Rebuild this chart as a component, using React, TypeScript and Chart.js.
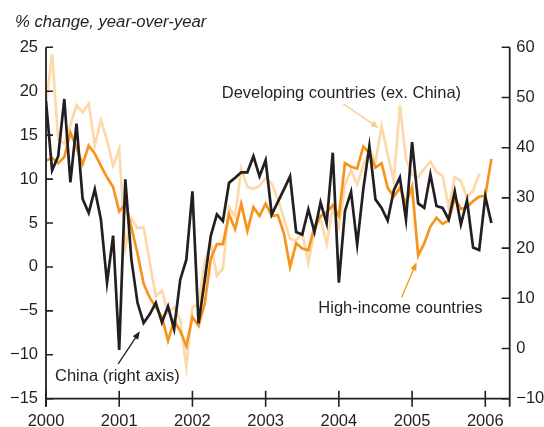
import { useEffect, useRef } from 'react';
import { Chart, registerables } from 'chart.js';

Chart.register(...registerables);

// Monthly data, starting January 2000
const startYear = 2000;
const developing = [
  18.5, 24.2, 14.5, 14.0, 16.2, 18.4, 17.6, 18.6, 13.8, 16.7, 14.4, 11.5,
  13.4, 2.2, 5.5, 4.4, 4.5, 0.5, -3.3, -2.7, -5.2, -4.6, -6.0, -11.4,
  -4.6, -4.2, 0.5, 2.7, -1.0, -0.2, 6.8, 5.7, 11.2, 9.1, 8.9, 9.2,
  10.1, 9.5, 7.7, 5.5, 3.2, 3.0, 3.9, 0.5, 4.1, 5.5, 2.6, 6.8,
  4.5, 9.4, 11.0, 9.4, 11.5, 13.3, 12.0, 16.0, 12.8, 9.8, 18.4, 12.3,
  10.5, 10.2, 11.2, 12.0, 10.8, 10.4, 6.8, 10.2, 9.8, 7.9, 8.7, 10.6,
];
const highIncome = [
  12.1, 12.4, 11.8, 12.5, 15.3, 13.6, 11.7, 13.8, 12.9, 11.5, 10.2, 9.1,
  6.3, 7.2, 4.5, 1.5, -1.9, -3.5, -4.6, -5.7, -8.4, -6.1, -7.3, -9.0,
  -5.7, -6.7, -4.2, 0.9, 2.6, 2.6, 6.0, 4.3, 7.2, 4.1, 6.8, 5.8,
  7.2, 5.8, 5.9, 3.8, 0.0, 2.7, 2.1, 1.9, 4.6, 5.8, 6.2, 7.0,
  5.8, 11.8, 11.4, 11.2, 13.7, 13.0, 11.3, 11.8, 9.0, 8.0, 9.0, 7.2,
  9.1, 1.3, 2.7, 4.6, 5.6, 4.9, 5.3, 7.8, 6.6, 6.8, 7.5, 8.0,
  8.1, 12.3,
];
const china = [
  49.3, 35.5, 38.3, 49.7, 33.1, 44.8, 29.8, 27.0, 31.7, 25.7, 13.1, 22.5,
  -0.3, 33.7, 17.7, 9.1, 5.1, 6.8, 9.1, 5.2, 8.4, 3.9, 13.7, 17.7,
  31.3, 5.0, 13.5, 22.4, 26.7, 25.4, 33.0, 34.0, 35.1, 35.1, 38.3, 34.3,
  37.5, 26.7, 29.2, 31.7, 34.3, 23.2, 22.7, 27.7, 23.2, 29.1, 24.9, 39.0,
  13.1, 27.4, 31.2, 20.7, 31.7, 40.3, 29.7, 28.0, 25.5, 31.5, 34.1, 25.7,
  41.1, 28.9, 28.0, 34.7, 28.4, 28.0, 25.7, 31.3, 24.7, 29.5, 20.1, 19.6,
  30.3, 25.0,
];

const xTickValues = [2000, 2001, 2002, 2003, 2004, 2005, 2006];
const leftTickValues = [-15, -10, -5, 0, 5, 10, 15, 20, 25];
const rightTickValues = [-10, 0, 10, 20, 30, 40, 50, 60];

const titleText = '% change, year-over-year';
const labelDeveloping = 'Developing countries (ex. China)';
const labelHighIncome = 'High-income countries';
const labelChina = 'China (right axis)';

const INK = '#231F20';
const ORANGE = '#F7941D';
const PEACH = '#FDD8A8';
const FONT = '"Liberation Sans", Arial, Helvetica, sans-serif';

const toPoints = (arr: number[]) =>
  arr.map((v, i) => ({ x: startYear + i / 12, y: v }));

const fmt = (v: number) => (v < 0 ? '\u2212' + Math.abs(v) : String(v));

export default function App() {
  const ref = useRef<HTMLCanvasElement | null>(null);

  useEffect(() => {
    const canvas = ref.current;
    if (!canvas) return;

    const drawArrow = (
      ctx: CanvasRenderingContext2D,
      x1: number, y1: number, x2: number, y2: number, color: string
    ) => {
      const ang = Math.atan2(y2 - y1, x2 - x1);
      const head = 8;
      const half = 3.2;
      ctx.save();
      ctx.strokeStyle = color;
      ctx.fillStyle = color;
      ctx.lineWidth = 1.3;
      ctx.beginPath();
      ctx.moveTo(x1, y1);
      ctx.lineTo(x2 - Math.cos(ang) * head * 0.8, y2 - Math.sin(ang) * head * 0.8);
      ctx.stroke();
      ctx.beginPath();
      ctx.moveTo(x2, y2);
      ctx.lineTo(
        x2 - Math.cos(ang) * head - Math.sin(ang) * half,
        y2 - Math.sin(ang) * head + Math.cos(ang) * half
      );
      ctx.lineTo(
        x2 - Math.cos(ang) * head + Math.sin(ang) * half,
        y2 - Math.sin(ang) * head - Math.cos(ang) * half
      );
      ctx.closePath();
      ctx.fill();
      ctx.restore();
    };

    const decor = {
      id: 'decor',
      afterDatasetsDraw(chart: any) {
        const { ctx, chartArea } = chart;
        const xs = chart.scales.x;
        const ys = chart.scales.y;
        const y1s = chart.scales.y1;
        const L = chartArea.left;
        const R = chartArea.right;
        const B = chartArea.bottom;
        const T = ys.getPixelForValue(25);
        ctx.save();
        ctx.strokeStyle = INK;
        ctx.lineWidth = 1.8;
        ctx.lineCap = 'butt';
        ctx.beginPath();
        ctx.moveTo(L, T);
        ctx.lineTo(L, B + 8);
        ctx.moveTo(L, B);
        ctx.lineTo(R, B);
        ctx.moveTo(R, T);
        ctx.lineTo(R, B + 8);
        ctx.stroke();
        ctx.lineWidth = 1.6;
        ctx.beginPath();
        xTickValues.forEach((v) => {
          const px = xs.getPixelForValue(v);
          ctx.moveTo(px, B - 8);
          ctx.lineTo(px, B + 8);
        });
        leftTickValues.forEach((v) => {
          const py = ys.getPixelForValue(v);
          ctx.moveTo(L, py);
          ctx.lineTo(L + 7, py);
        });
        rightTickValues.forEach((v) => {
          const py = y1s.getPixelForValue(v);
          ctx.moveTo(R - 8, py);
          ctx.lineTo(R, py);
        });
        ctx.stroke();

        // title
        ctx.fillStyle = INK;
        ctx.font = 'italic 16.7px ' + FONT;
        ctx.textBaseline = 'alphabetic';
        ctx.textAlign = 'left';
        ctx.fillText(titleText, 15, 26.5);

        // annotations (anchored in data units)
        ctx.font = '16.5px ' + FONT;
        ctx.fillText(labelDeveloping, xs.getPixelForValue(2002.4), ys.getPixelForValue(19.2));
        ctx.fillText(labelHighIncome, xs.getPixelForValue(2003.72), ys.getPixelForValue(-5.3));
        ctx.fillText(labelChina, xs.getPixelForValue(2000.123), ys.getPixelForValue(-12.95));

        drawArrow(ctx,
          xs.getPixelForValue(2004.06), ys.getPixelForValue(18.55),
          xs.getPixelForValue(2004.547), ys.getPixelForValue(15.82), '#FCC88C');
        drawArrow(ctx,
          xs.getPixelForValue(2004.857), ys.getPixelForValue(-3.46),
          xs.getPixelForValue(2005.061), ys.getPixelForValue(0.52), ORANGE);
        drawArrow(ctx,
          xs.getPixelForValue(2000.986), ys.getPixelForValue(-11.04),
          xs.getPixelForValue(2001.282), ys.getPixelForValue(-7.33), INK);
        ctx.restore();
      },
    };

    const chart = new Chart(canvas, {
      type: 'line',
      data: {
        datasets: [
          {
            label: 'China',
            data: toPoints(china),
            yAxisID: 'y1',
            borderColor: INK,
            borderWidth: 2.7,
            pointRadius: 0,
            tension: 0,
          },
          {
            label: 'High-income countries',
            data: toPoints(highIncome),
            yAxisID: 'y',
            borderColor: ORANGE,
            borderWidth: 2.7,
            pointRadius: 0,
            tension: 0,
          },
          {
            label: 'Developing countries (ex. China)',
            data: toPoints(developing),
            yAxisID: 'y',
            borderColor: PEACH,
            borderWidth: 2.7,
            pointRadius: 0,
            tension: 0,
          },
        ],
      },
      options: {
        responsive: false,
        animation: false,
        events: [],
        layout: { padding: { top: 47.3, left: 0, right: 0, bottom: 0 } },
        plugins: {
          legend: { display: false },
          tooltip: { enabled: false },
          title: { display: false },
        },
        scales: {
          x: {
            type: 'linear',
            min: 2000,
            max: 2000 + 76 / 12,
            grid: { display: false, drawTicks: false },
            border: { display: false },
            afterBuildTicks: (s: any) => {
              s.ticks = xTickValues.map((v) => ({ value: v }));
            },
            afterFit: (s: any) => {
              s.height = 427 - 398.7;
            },
            ticks: {
              padding: 13,
              color: INK,
              font: { family: FONT, size: 16.5 },
              maxRotation: 0,
              autoSkip: false,
              callback: (v: any) => String(v),
            },
          },
          y: {
            type: 'linear',
            position: 'left',
            min: -15,
            max: 25,
            grid: { display: false, drawTicks: false },
            border: { display: false },
            afterBuildTicks: (s: any) => {
              s.ticks = leftTickValues.map((v) => ({ value: v }));
            },
            afterFit: (s: any) => {
              s.width = 46;
            },
            ticks: {
              padding: 8,
              color: INK,
              font: { family: FONT, size: 16.5 },
              callback: (v: any) => fmt(Number(v)),
            },
          },
          y1: {
            type: 'linear',
            position: 'right',
            min: -10,
            max: 60,
            grid: { display: false, drawTicks: false },
            border: { display: false },
            afterBuildTicks: (s: any) => {
              s.ticks = rightTickValues.map((v) => ({ value: v }));
            },
            afterFit: (s: any) => {
              s.width = 544 - 509.7;
            },
            ticks: {
              padding: 6.6,
              color: INK,
              font: { family: FONT, size: 16.5 },
              callback: (v: any) => fmt(Number(v)),
            },
          },
        },
      },
      plugins: [decor],
    } as any);

    return () => chart.destroy();
  }, []);

  return (
    <div style={{ position: 'fixed', left: 0, top: 0, width: 544, height: 427, background: '#fff' }}>
      <canvas ref={ref} width={544} height={427} />
    </div>
  );
}
